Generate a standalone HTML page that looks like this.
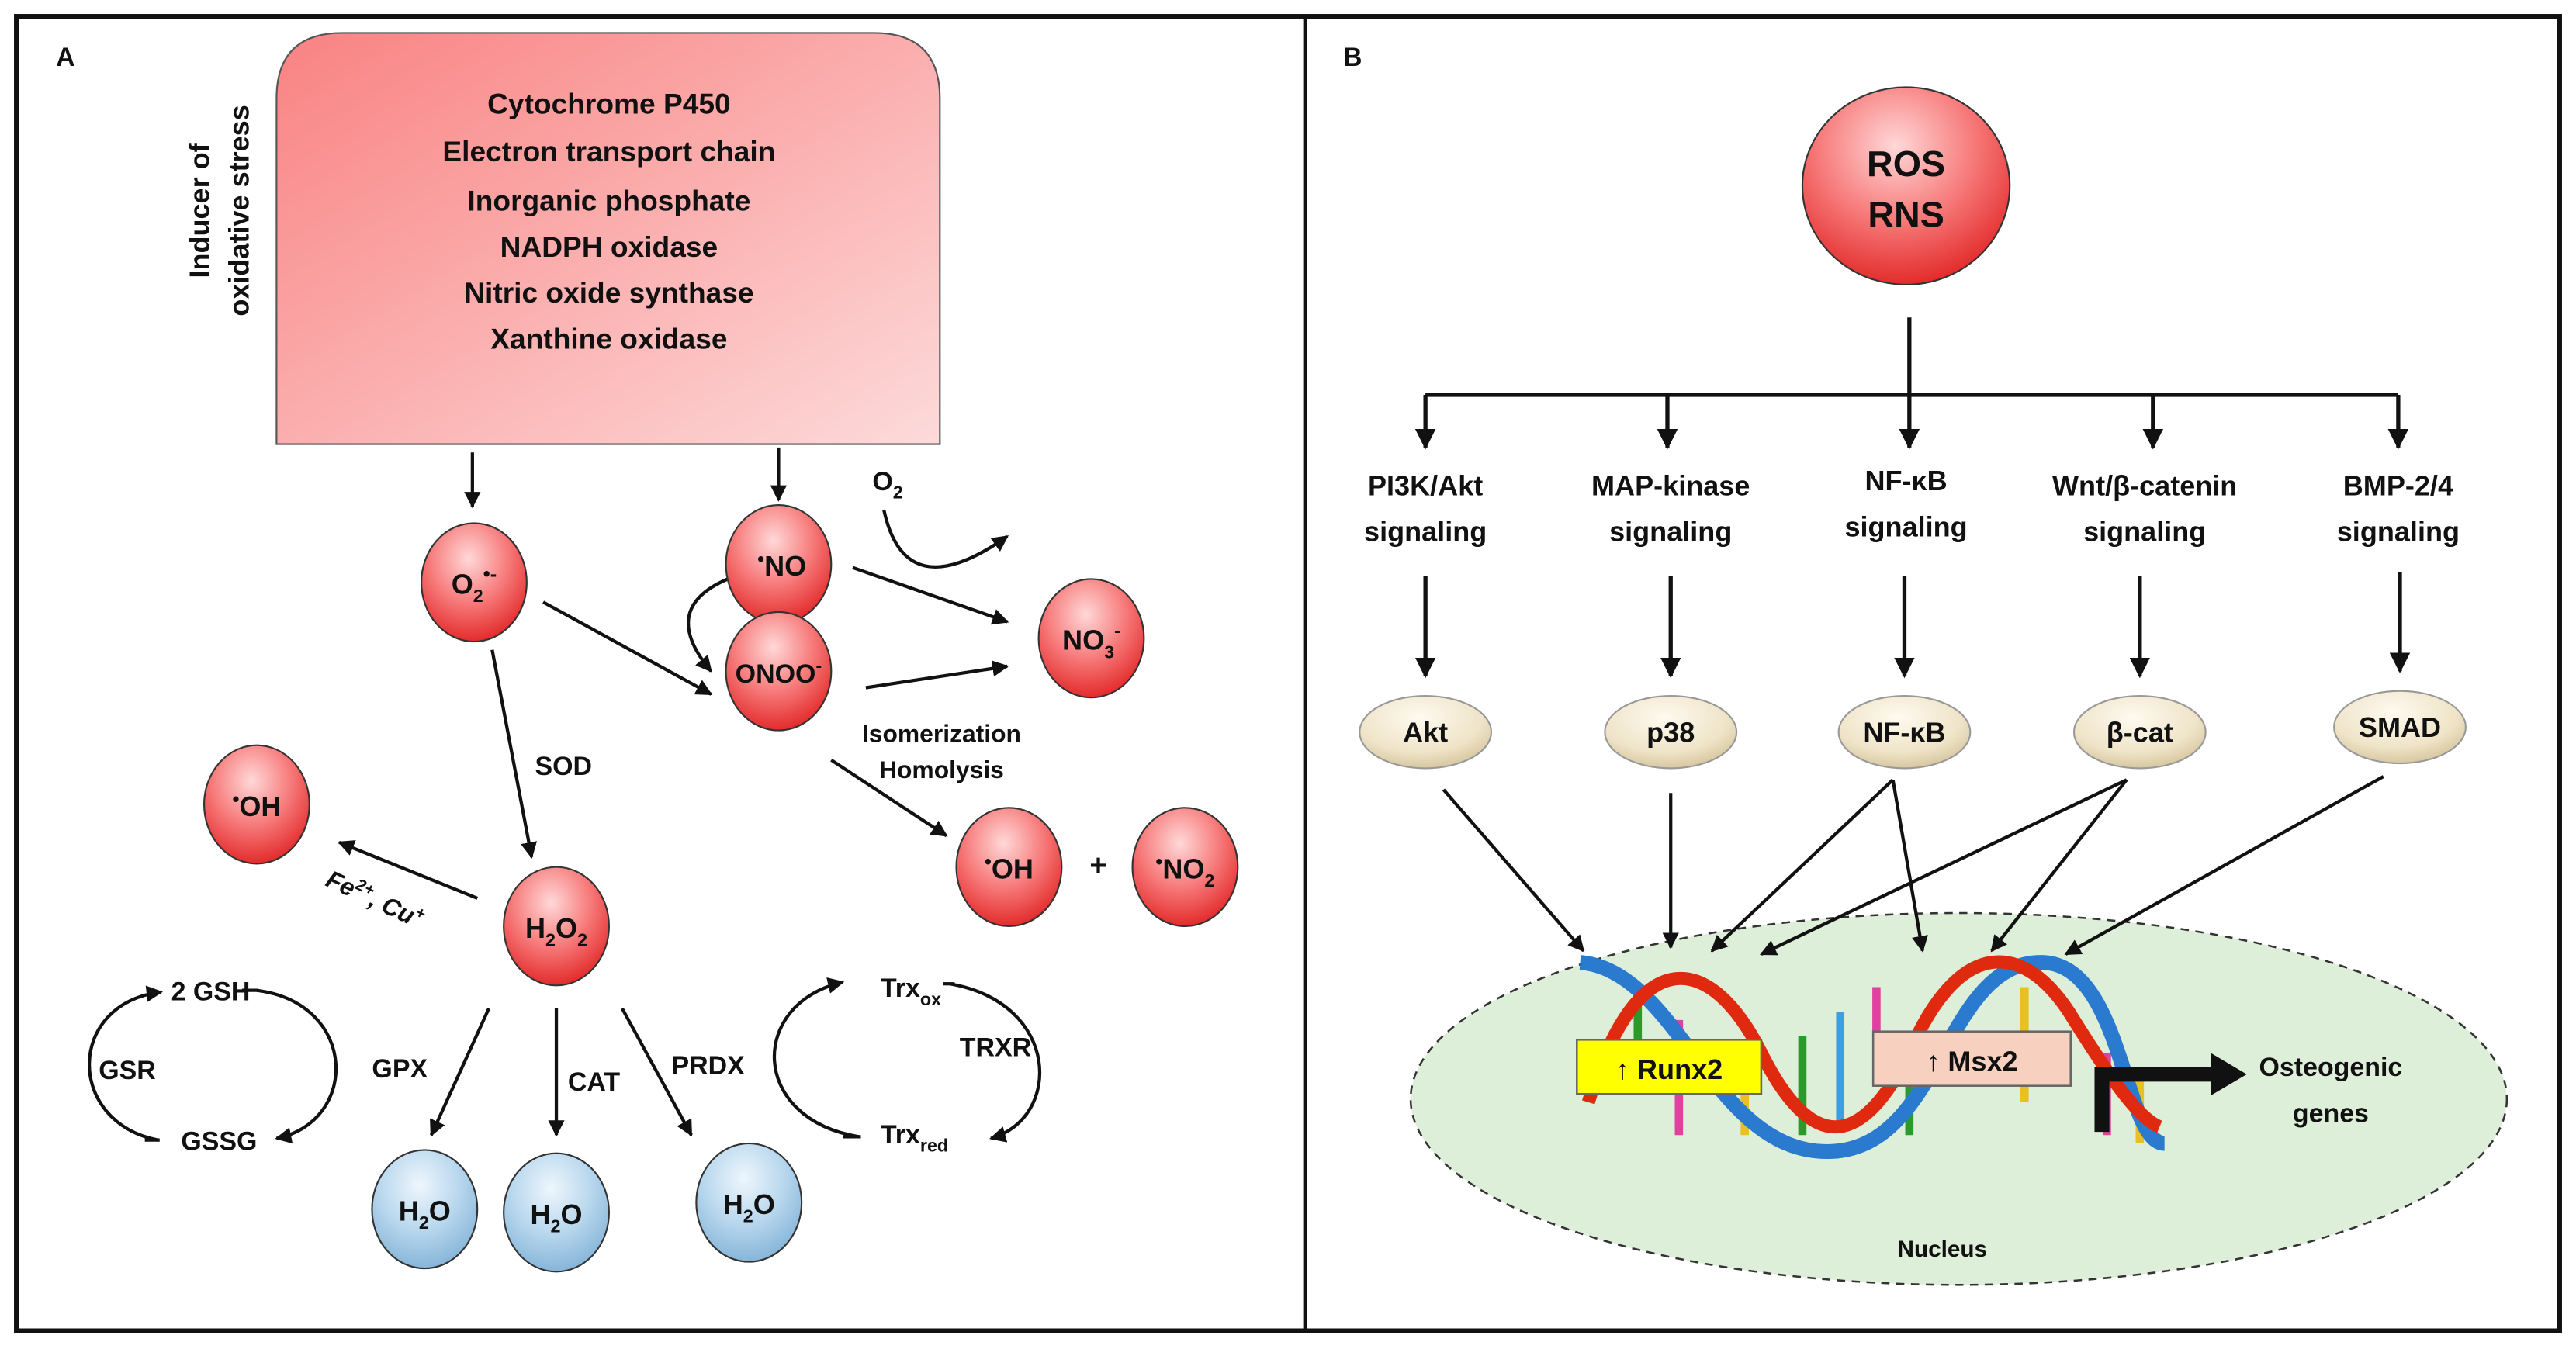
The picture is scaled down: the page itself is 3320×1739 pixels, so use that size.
<!DOCTYPE html>
<html><head><meta charset="utf-8"><style>
html,body{margin:0;padding:0;background:#fff}
svg{display:block}
text{font-family:"Liberation Sans",sans-serif;font-weight:bold;fill:#111}
</style></head><body>
<svg width="3320" height="1739" viewBox="0 0 1565 820" preserveAspectRatio="none" xmlns="http://www.w3.org/2000/svg">
<defs>
<linearGradient id="box" x1="0" y1="0" x2="1" y2="1"><stop offset="0" stop-color="#f98282"/><stop offset="1" stop-color="#fddada"/></linearGradient>
<radialGradient id="red" cx="0.45" cy="0.3" r="0.75"><stop offset="0" stop-color="#ffd8d8"/><stop offset="0.5" stop-color="#f77a7a"/><stop offset="1" stop-color="#e02020"/></radialGradient>
<radialGradient id="blue" cx="0.45" cy="0.3" r="0.75"><stop offset="0" stop-color="#eef6fc"/><stop offset="0.5" stop-color="#b9d8ee"/><stop offset="1" stop-color="#7fb0d6"/></radialGradient>
<radialGradient id="cream" cx="0.45" cy="0.3" r="0.8"><stop offset="0" stop-color="#fffaf0"/><stop offset="0.6" stop-color="#efe4c8"/><stop offset="1" stop-color="#cdbb8e"/></radialGradient>
<marker id="ah" viewBox="0 0 10 10" refX="9" refY="5" markerWidth="5" markerHeight="5" orient="auto-start-reverse"><path d="M0,0 L10,5 L0,10 z" fill="#111"/></marker>
</defs>
<rect x="0" y="0" width="1565" height="820" fill="#fff"/>
<rect x="10" y="10" width="1545" height="799" fill="none" stroke="#111" stroke-width="3"/>
<line x1="793" y1="10" x2="793" y2="809" stroke="#111" stroke-width="2.5"/>

<!-- Panel A -->
<text x="34" y="40" font-size="16">A</text>
<path d="M168,270 L168,60 Q168,20 208,20 L531,20 Q571,20 571,60 L571,270 Z" fill="url(#box)" stroke="#555" stroke-width="1"/>
<g font-size="17.5" text-anchor="middle">
<text x="370" y="69">Cytochrome P450</text>
<text x="370" y="98">Electron transport chain</text>
<text x="370" y="128">Inorganic phosphate</text>
<text x="370" y="156">NADPH oxidase</text>
<text x="370" y="184">Nitric oxide synthase</text>
<text x="370" y="212">Xanthine oxidase</text>
</g>
<g font-size="17" text-anchor="middle">
<text transform="translate(127,128) rotate(-90)">Inducer of</text>
<text transform="translate(151,128) rotate(-90)">oxidative stress</text>
</g>
<g stroke="#111" stroke-width="2" fill="none" marker-end="url(#ah)">
<line x1="287" y1="275" x2="287" y2="308"/>
<line x1="473" y1="272" x2="473" y2="304"/>
<line x1="330" y1="366" x2="432" y2="422"/>
<line x1="518" y1="345" x2="612" y2="378"/>
<line x1="526" y1="418" x2="612" y2="405"/>
<path d="M442,352 Q400,370 432,408"/>
<path d="M537,310 Q550,370 612,326"/>
<line x1="299" y1="395" x2="323" y2="521"/>
<line x1="290" y1="546" x2="206" y2="512"/>
<line x1="505" y1="462" x2="575" y2="508"/>
<line x1="297" y1="613" x2="262" y2="690"/>
<line x1="338" y1="613" x2="338" y2="690"/>
<line x1="378" y1="613" x2="420" y2="690"/>
<path d="M96,693 C40,682 40,610 98,603"/>
<path d="M156,602 C218,610 218,682 168,692"/>
<path d="M522,691 C455,680 455,610 512,597"/>
<path d="M577,598 C645,610 645,680 602,692"/>
</g>
<g stroke="#111" stroke-width="2"><line x1="88" y1="693" x2="97" y2="693"/><line x1="147" y1="602" x2="157" y2="602"/><line x1="512" y1="691" x2="523" y2="691"/><line x1="573" y1="598" x2="580" y2="598"/></g>
<g font-size="16">
<text x="530" y="298">O<tspan font-size="11" dy="5">2</tspan></text>
<text x="325" y="471">SOD</text>
<text x="572" y="451" font-size="15" text-anchor="middle">Isomerization</text>
<text x="572" y="473" font-size="15" text-anchor="middle">Homolysis</text>
<text transform="translate(197,538) rotate(25)" font-style="italic" font-size="15">Fe<tspan font-size="10" dy="-6">2+</tspan><tspan dy="6">, Cu</tspan><tspan font-size="10" dy="-6">+</tspan></text>
<text x="226" y="655">GPX</text>
<text x="345" y="663">CAT</text>
<text x="408" y="653">PRDX</text>
<text x="104" y="608">2 GSH</text>
<text x="110" y="699">GSSG</text>
<text x="60" y="656">GSR</text>
<text x="535" y="606">Trx<tspan font-size="11" dy="5">ox</tspan></text>
<text x="535" y="695">Trx<tspan font-size="11" dy="5">red</tspan></text>
<text x="583" y="642">TRXR</text>
<text x="662" y="532" font-size="18">+</text>
</g>
<g stroke="#333" stroke-width="1">
<ellipse cx="288" cy="354" rx="32" ry="36" fill="url(#red)"/>
<ellipse cx="473" cy="343" rx="32" ry="36" fill="url(#red)"/>
<ellipse cx="663" cy="388" rx="32" ry="36" fill="url(#red)"/>
<ellipse cx="473" cy="408" rx="32" ry="36" fill="url(#red)"/>
<ellipse cx="156" cy="489" rx="32" ry="36" fill="url(#red)"/>
<ellipse cx="338" cy="563" rx="32" ry="36" fill="url(#red)"/>
<ellipse cx="613" cy="527" rx="32" ry="36" fill="url(#red)"/>
<ellipse cx="720" cy="527" rx="32" ry="36" fill="url(#red)"/>
<ellipse cx="258" cy="735" rx="32" ry="36" fill="url(#blue)"/>
<ellipse cx="338" cy="737" rx="32" ry="36" fill="url(#blue)"/>
<ellipse cx="455" cy="731" rx="32" ry="36" fill="url(#blue)"/>
</g>
<g font-size="17" text-anchor="middle">
<text x="288" y="361">O<tspan font-size="11" dy="5">2</tspan><tspan font-size="12" dy="-13">•-</tspan></text>
<text x="475" y="350"><tspan font-size="12" dy="-6">•</tspan><tspan dy="6">NO</tspan></text>
<text x="663" y="395">NO<tspan font-size="11" dy="5">3</tspan><tspan font-size="11" dy="-13">-</tspan></text>
<text x="473" y="415" font-size="16">ONOO<tspan font-size="11" dy="-7">-</tspan></text>
<text x="156" y="496"><tspan font-size="12" dy="-6">•</tspan><tspan dy="6">OH</tspan></text>
<text x="338" y="570">H<tspan font-size="11" dy="5">2</tspan><tspan dy="-5">O</tspan><tspan font-size="11" dy="5">2</tspan></text>
<text x="613" y="534"><tspan font-size="12" dy="-6">•</tspan><tspan dy="6">OH</tspan></text>
<text x="720" y="534"><tspan font-size="12" dy="-6">•</tspan><tspan dy="6">NO</tspan><tspan font-size="11" dy="5">2</tspan></text>
<text x="258" y="742">H<tspan font-size="11" dy="5">2</tspan><tspan dy="-5">O</tspan></text>
<text x="338" y="744">H<tspan font-size="11" dy="5">2</tspan><tspan dy="-5">O</tspan></text>
<text x="455" y="738">H<tspan font-size="11" dy="5">2</tspan><tspan dy="-5">O</tspan></text>
</g>

<!-- Panel B -->
<text x="816" y="40" font-size="16">B</text>
<ellipse cx="1158" cy="113" rx="63" ry="60" fill="url(#red)" stroke="#333" stroke-width="1"/>
<text x="1158" y="107" font-size="22" text-anchor="middle">ROS</text>
<text x="1158" y="138" font-size="22" text-anchor="middle">RNS</text>
<ellipse cx="1190" cy="668" rx="333" ry="113" fill="#deefd9" stroke="#333" stroke-width="1.2" stroke-dasharray="5,4"/>
<g stroke="#111" stroke-width="2.5" fill="none">
<line x1="1160" y1="193" x2="1160" y2="240"/>
<line x1="866" y1="240" x2="1457" y2="240"/>
</g>
<g stroke="#111" stroke-width="2.5" fill="none" marker-end="url(#ah)">
<line x1="866" y1="240" x2="866" y2="272"/>
<line x1="1013" y1="240" x2="1013" y2="272"/>
<line x1="1160" y1="240" x2="1160" y2="272"/>
<line x1="1308" y1="240" x2="1308" y2="272"/>
<line x1="1457" y1="240" x2="1457" y2="272"/>
<line x1="866" y1="350" x2="866" y2="411"/>
<line x1="1015" y1="350" x2="1015" y2="411"/>
<line x1="1157" y1="350" x2="1157" y2="411"/>
<line x1="1300" y1="350" x2="1300" y2="411"/>
<line x1="1458" y1="348" x2="1458" y2="408"/>
</g>
<g stroke="#111" stroke-width="2" fill="none" marker-end="url(#ah)">
<line x1="877" y1="480" x2="962" y2="578"/>
<line x1="1015" y1="482" x2="1015" y2="576"/>
<line x1="1150" y1="474" x2="1040" y2="578"/>
<line x1="1150" y1="474" x2="1168" y2="578"/>
<line x1="1292" y1="474" x2="1070" y2="580"/>
<line x1="1292" y1="474" x2="1210" y2="578"/>
<line x1="1448" y1="472" x2="1255" y2="580"/>
</g>
<g font-size="17" text-anchor="middle">
<text x="866" y="301">PI3K/Akt</text><text x="866" y="329">signaling</text>
<text x="1015" y="301">MAP-kinase</text><text x="1015" y="329">signaling</text>
<text x="1158" y="298">NF-κB</text><text x="1158" y="326">signaling</text>
<text x="1303" y="301">Wnt/β-catenin</text><text x="1303" y="329">signaling</text>
<text x="1457" y="301">BMP-2/4</text><text x="1457" y="329">signaling</text>
</g>
<g stroke="#999" stroke-width="1">
<ellipse cx="866" cy="445" rx="40" ry="22" fill="url(#cream)"/>
<ellipse cx="1015" cy="445" rx="40" ry="22" fill="url(#cream)"/>
<ellipse cx="1157" cy="445" rx="40" ry="22" fill="url(#cream)"/>
<ellipse cx="1300" cy="445" rx="40" ry="22" fill="url(#cream)"/>
<ellipse cx="1458" cy="442" rx="40" ry="22" fill="url(#cream)"/>
</g>
<g font-size="17" text-anchor="middle">
<text x="866" y="451">Akt</text><text x="1015" y="451">p38</text><text x="1157" y="451">NF-κB</text><text x="1300" y="451">β-cat</text><text x="1458" y="448">SMAD</text>
</g>
<!-- DNA helix -->
<g fill="none" stroke-linecap="butt">
<g stroke-width="5">
<line x1="995" y1="600" x2="995" y2="665" stroke="#2a9a2a"/>
<line x1="1020" y1="620" x2="1020" y2="690" stroke="#e040a0"/>
<line x1="1060" y1="640" x2="1060" y2="690" stroke="#e8c020"/>
<line x1="1095" y1="630" x2="1095" y2="690" stroke="#2a9a2a"/>
<line x1="1118" y1="615" x2="1118" y2="685" stroke="#3aa0e0"/>
<line x1="1140" y1="600" x2="1140" y2="660" stroke="#e040a0"/>
<line x1="1160" y1="630" x2="1160" y2="690" stroke="#2a9a2a"/>
<line x1="1230" y1="600" x2="1230" y2="670" stroke="#e8c020"/>
<line x1="1280" y1="640" x2="1280" y2="690" stroke="#e040a0"/>
<line x1="1300" y1="650" x2="1300" y2="695" stroke="#e8c020"/>
</g>
<path d="M960,585 C1020,590 1040,700 1110,700 C1180,700 1180,585 1240,585 C1290,585 1290,695 1315,695" stroke="#2a7ad0" stroke-width="9"/>
<path d="M965,670 C995,570 1040,580 1070,640 C1100,700 1130,700 1160,640 C1190,570 1230,570 1260,620 C1285,660 1300,680 1312,685" stroke="#e02a10" stroke-width="8"/>
</g>
<rect x="958" y="632" width="112" height="33" fill="#ffff00" stroke="#666" stroke-width="1.2"/>
<text x="1014" y="656" font-size="17" text-anchor="middle">↑ Runx2</text>
<rect x="1138" y="627" width="120" height="33" fill="#f8d0c0" stroke="#666" stroke-width="1.2"/>
<text x="1198" y="651" font-size="17" text-anchor="middle">↑ Msx2</text>
<path d="M1277,688 L1277,653 L1345,653" stroke="#111" stroke-width="9" fill="none"/>
<path d="M1343,640 L1365,653 L1343,666 Z" fill="#111"/>
<text x="1416" y="654" font-size="16" text-anchor="middle">Osteogenic</text>
<text x="1416" y="682" font-size="16" text-anchor="middle">genes</text>
<text x="1180" y="764" font-size="14" text-anchor="middle">Nucleus</text>
</svg>
</body></html>
